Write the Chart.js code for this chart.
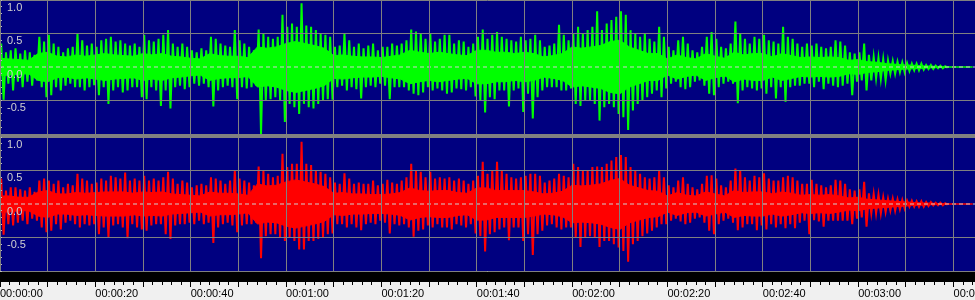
<!DOCTYPE html>
<html>
<head>
<meta charset="utf-8">
<script src="https://cdn.jsdelivr.net/npm/chart.js@4.4.0/dist/chart.umd.min.js"></script>
<style>
  html, body { margin: 0; padding: 0; background: #f0f0f0; }
  #wrap { position: relative; width: 975px; height: 300px; overflow: hidden; background: #f0f0f0; }
  #topBox { position: absolute; left: 0; top: 0; width: 975px; height: 134px; }
  #sep { position: absolute; left: 0; top: 134px; width: 975px; height: 3px; background: #808080; }
  #band { position: absolute; left: 0; top: 272px; width: 975px; height: 10px; background: #000; }
  #bottomBox { position: absolute; left: 0; top: 137px; width: 975px; height: 163px; }
</style>
</head>
<body>
<div id="wrap">
  <div id="band"></div>
  <div id="topBox"><canvas id="leftChannel"></canvas></div>
  <div id="sep"></div>
  <div id="bottomBox"><canvas id="rightChannel"></canvas></div>
</div>
<script>
// time span of the view, in seconds
const viewSeconds = 204.5;

// tick labels
const timeLabels = ["00:00:00", "00:00:20", "00:00:40", "00:01:00", "00:01:20", "00:01:40",
  "00:02:00", "00:02:20", "00:02:40", "00:03:00", "00:03:20"];
const ampTicks = [1, 0.5, 0, -0.5];
const ampLabels = ["1.0", "0.5", "0.0", "-0.5"];

// peak levels, one value per second (t = 0 .. 198 s)
const leftHi = [
  .35,.22,.25,.28,.2,.25,.22,.18,.45,.38,
  .48,.35,.3,.22,.28,.3,.5,.4,.32,.35,
  .3,.4,.42,.45,.38,.4,.35,.32,.35,.3,
  .48,.4,.38,.42,.48,.55,.35,.3,.35,.3,
  .25,.22,.28,.25,.45,.42,.35,.32,.3,.55,
  .4,.35,.3,.25,.56,.5,.45,.42,.45,.78,
  .6,.65,.6,.95,.62,.6,.55,.5,.48,.45,
  .3,.32,.5,.4,.3,.35,.28,.32,.35,.25,
  .3,.3,.35,.32,.35,.4,.56,.53,.5,.42,
  .5,.38,.42,.48,.48,.35,.4,.38,.3,.35,
  .45,.56,.42,.48,.52,.45,.42,.4,.38,.45,
  .4,.42,.48,.4,.3,.32,.35,.63,.48,.4,
  .5,.6,.5,.55,.6,.83,.55,.65,.7,.75,
  .83,.78,.55,.5,.45,.5,.42,.38,.6,.45,
  .3,.25,.4,.45,.35,.25,.22,.3,.45,.52,
  .42,.3,.28,.35,.68,.5,.42,.35,.45,.42,
  .48,.4,.38,.35,.6,.45,.42,.35,.3,.35,
  .32,.35,.3,.28,.3,.4,.38,.32,.22,.2,
  .22,.35,.18,.15,.14,.12,.1,.09,.08,.07,
  .06,.05,.05,.05,.03,.03,.02,.02,.01
];
const leftLo = [
  -.49,-.25,-.35,-.22,-.3,-.22,-.28,-.2,-.3,-.45,
  -.42,-.3,-.35,-.28,-.25,-.3,-.3,-.35,-.3,-.27,
  -.42,-.3,-.55,-.35,-.3,-.38,-.35,-.3,-.3,-.45,
  -.48,-.3,-.35,-.58,-.35,-.62,-.3,-.28,-.33,-.3,
  -.25,-.28,-.25,-.3,-.59,-.35,-.3,-.28,-.3,-.48,
  -.3,-.32,-.3,-.28,-1.0,-.5,-.48,-.45,-.5,-.82,
  -.55,-.6,-.7,-.55,-.6,-.62,-.55,-.5,-.48,-.49,
  -.3,-.28,-.35,-.3,-.33,-.47,-.3,-.28,-.3,-.25,
  -.28,-.48,-.3,-.3,-.3,-.35,-.4,-.42,-.38,-.3,
  -.35,-.32,-.35,-.4,-.38,-.32,-.33,-.35,-.3,-.44,
  -.5,-.68,-.45,-.48,-.35,-.35,-.59,-.35,-.32,-.67,
  -.4,-.77,-.45,-.35,-.3,-.3,-.3,-.35,-.35,-.32,
  -.55,-.58,-.5,-.5,-.55,-.8,-.6,-.55,-.6,-.7,
  -.75,-.94,-.65,-.55,-.5,-.45,-.4,-.35,-.45,-.32,
  -.25,-.22,-.3,-.33,-.3,-.22,-.2,-.28,-.4,-.42,
  -.3,-.25,-.22,-.25,-.54,-.35,-.3,-.32,-.35,-.32,
  -.4,-.3,-.47,-.3,-.52,-.3,-.28,-.28,-.25,-.25,
  -.3,-.22,-.33,-.25,-.28,-.3,-.28,-.25,-.42,-.22,
  -.2,-.35,-.2,-.17,-.18,-.2,-.1,-.1,-.08,-.08,
  -.06,-.05,-.05,-.04,-.03,-.03,-.02,-.02,-.01
];
const rightHi = [
  .38,.2,.25,.25,.22,.2,.25,.18,.35,.38,
  .35,.3,.35,.25,.3,.28,.45,.38,.35,.3,
  .32,.38,.35,.42,.4,.38,.47,.35,.38,.35,
  .42,.35,.38,.35,.4,.48,.38,.3,.35,.32,
  .25,.28,.3,.28,.4,.38,.35,.3,.35,.5,
  .38,.35,.32,.28,.56,.5,.45,.4,.42,.75,
  .55,.6,.6,.93,.6,.58,.5,.48,.45,.4,
  .32,.3,.46,.38,.3,.32,.3,.3,.35,.28,
  .3,.36,.32,.3,.35,.4,.6,.5,.48,.4,
  .48,.38,.4,.38,.4,.35,.38,.35,.3,.35,
  .42,.63,.45,.5,.63,.5,.45,.4,.38,.4,
  .42,.45,.45,.42,.32,.35,.38,.45,.42,.4,
  .6,.55,.5,.5,.55,.56,.55,.6,.65,.7,
  .73,.7,.55,.5,.45,.4,.38,.4,.5,.4,
  .28,.25,.35,.4,.3,.25,.22,.3,.42,.43,
  .38,.28,.25,.35,.53,.5,.4,.35,.42,.4,
  .46,.38,.35,.35,.4,.42,.4,.35,.3,.3,
  .36,.3,.28,.25,.28,.36,.35,.3,.22,.2,
  .22,.33,.16,.15,.14,.1,.08,.08,.07,.06,
  .05,.05,.04,.04,.03,.03,.02,.02,.01
];
const rightLo = [
  -.46,-.3,-.32,-.28,-.25,-.3,-.22,-.25,-.35,-.42,
  -.4,-.3,-.38,-.28,-.25,-.3,-.35,-.3,-.32,-.3,
  -.45,-.35,-.5,-.32,-.3,-.35,-.51,-.3,-.35,-.38,
  -.4,-.32,-.3,-.3,-.45,-.52,-.32,-.3,-.3,-.28,
  -.3,-.25,-.3,-.28,-.58,-.35,-.3,-.28,-.32,-.42,
  -.32,-.3,-.3,-.28,-.81,-.48,-.45,-.45,-.5,-.55,
  -.5,-.55,-.68,-.68,-.55,-.55,-.52,-.5,-.45,-.44,
  -.3,-.3,-.35,-.3,-.35,-.39,-.3,-.28,-.3,-.25,
  -.28,-.44,-.3,-.32,-.3,-.35,-.49,-.4,-.38,-.32,
  -.35,-.3,-.35,-.35,-.38,-.3,-.32,-.35,-.3,-.44,
  -.48,-.71,-.45,-.42,-.38,-.35,-.54,-.35,-.35,-.55,
  -.45,-.76,-.45,-.4,-.32,-.3,-.35,-.38,-.35,-.35,
  -.5,-.64,-.5,-.48,-.5,-.64,-.55,-.55,-.6,-.65,
  -.7,-.86,-.6,-.55,-.48,-.44,-.4,-.35,-.3,-.3,
  -.25,-.22,-.26,-.3,-.28,-.22,-.2,-.28,-.4,-.45,
  -.3,-.25,-.22,-.28,-.39,-.35,-.3,-.3,-.39,-.32,
  -.38,-.3,-.35,-.3,-.36,-.3,-.36,-.28,-.25,-.45,
  -.24,-.26,-.34,-.25,-.25,-.25,-.25,-.25,-.3,-.22,
  -.2,-.34,-.14,-.14,-.14,-.12,-.1,-.1,-.08,-.07,
  -.04,-.04,-.04,-.04,-.03,-.02,-.02,-.02,-.01
];

// dense body of the signal, one value every 2 s (t = 0 .. 204 s)
const leftBody = [
  .13,.12,.11,.1,.2,.22,.16,.15,.18,.16,
  .18,.2,.18,.17,.16,.2,.18,.2,.16,.15,
  .13,.12,.2,.17,.16,.16,.14,.3,.28,.3,
  .35,.38,.35,.32,.28,.17,.18,.16,.15,.15,
  .14,.16,.18,.25,.22,.2,.22,.2,.18,.17,
  .25,.25,.22,.22,.2,.22,.2,.15,.17,.2,
  .3,.28,.3,.32,.38,.4,.3,.25,.2,.2,
  .12,.18,.14,.12,.2,.16,.13,.22,.18,.2,
  .2,.15,.2,.17,.14,.15,.14,.15,.14,.1,
  .11,.08,.07,.05,.04,.03,.025,.015,.01,.005,
  0,0,0
];
const rightBody = [
  .12,.12,.1,.1,.18,.2,.15,.15,.17,.16,
  .17,.18,.18,.18,.16,.18,.17,.18,.15,.14,
  .13,.12,.18,.16,.16,.15,.13,.3,.27,.28,
  .33,.36,.33,.3,.26,.16,.17,.15,.15,.14,
  .14,.15,.17,.24,.2,.19,.2,.2,.17,.16,
  .24,.24,.2,.2,.2,.2,.18,.15,.16,.19,
  .28,.27,.28,.3,.35,.38,.28,.24,.2,.19,
  .12,.17,.13,.12,.18,.15,.12,.2,.17,.18,
  .18,.15,.18,.16,.13,.14,.13,.14,.12,.09,
  .1,.07,.06,.05,.04,.03,.02,.015,.01,.005,
  0,0,0
];

const GRID = "#808080";
const FONT = { family: "Liberation Sans", size: 11 };

// paint the plot area navy
const navyArea = {
  id: "navyArea",
  beforeDraw(chart) {
    const { ctx, chartArea: a } = chart;
    ctx.save();
    ctx.fillStyle = "#000080";
    ctx.fillRect(a.left, a.top, a.right - a.left, a.bottom - a.top);
    ctx.restore();
  }
};

function noPadding(scale) {
  scale.paddingLeft = scale.paddingRight = scale.paddingTop = scale.paddingBottom = 0;
}

function makeChannel(id, hi, lo, body, color, withRuler) {
  // each second: a stroke up to its peak and down to its trough
  const strokes = [];
  hi.forEach((h, i) => {
    strokes.push({ x: i + 0.25, y: h });
    strokes.push({ x: i + 0.75, y: lo[i] });
  });
  const bodyUp = body.map((b, i) => ({ x: i * 2, y: b }));
  const bodyDown = body.map((b, i) => ({ x: i * 2, y: -b }));

  const scales = {
    y: {
      type: "linear", position: "left", min: -1, max: 1,
      border: { display: false },
      grid: {
        drawTicks: false, z: 1,
        color: (c) => (c.tick && c.tick.value === 0 ? "transparent" : GRID)
      },
      ticks: {
        stepSize: 0.5, mirror: true, padding: 7, labelOffset: 7.5, z: 1,
        color: "#d0d0d0", font: FONT, autoSkip: false,
        callback: (v) => {
          const k = ampTicks.indexOf(v);
          return k >= 0 ? ampLabels[k] : "";
        }
      },
      afterFit: (s) => { s.width = 0; noPadding(s); }
    },
    yMinor: {
      type: "linear", position: "left", min: -1, max: 1,
      border: { display: false },
      grid: { drawOnChartArea: false, tickLength: -2, tickColor: "#c0c0c0", z: 1 },
      ticks: { stepSize: 0.1, display: false, autoSkip: false },
      afterFit: (s) => { s.width = 0; noPadding(s); }
    }
  };

  if (withRuler) {
    scales.x = {
      type: "linear", position: "bottom", min: 0, max: viewSeconds, weight: 0, offset: false,
      border: { display: true, color: "#e8e8e8", width: 1 },
      grid: {
        offset: false, z: 1, tickLength: 14, tickColor: "#000",
        color: (c) => (c.tick && c.tick.value % 10 === 0 ? GRID : "transparent")
      },
      ticks: { stepSize: 2, display: false, includeBounds: false, autoSkip: false },
      afterFit: (s) => { s.height = 14; noPadding(s); }
    };
    scales.xr = {
      type: "linear", position: "bottom", min: 0, max: viewSeconds, weight: 1, offset: false,
      border: { display: false },
      grid: { offset: false, drawOnChartArea: false, tickLength: 2, tickColor: "#000" },
      ticks: {
        stepSize: 10, includeBounds: false, autoSkip: false, maxRotation: 0, minRotation: 0,
        align: "start", padding: 0, color: "#000", font: FONT,
        callback: (v) => (v % 20 === 0 ? timeLabels[v / 20] : "")
      },
      afterFit: (s) => { s.height = 15; noPadding(s); }
    };
  } else {
    scales.x = {
      type: "linear", position: "bottom", min: 0, max: viewSeconds, offset: false,
      border: { display: false },
      grid: { offset: false, z: 1, drawTicks: false, color: GRID },
      ticks: { stepSize: 10, display: false, includeBounds: false, autoSkip: false },
      afterFit: (s) => { s.height = 0; noPadding(s); }
    };
  }

  return new Chart(document.getElementById(id), {
    type: "line",
    data: {
      datasets: [
        {
          data: [{ x: 0, y: 0 }, { x: viewSeconds, y: 0 }],
          borderColor: "#d0d0d0", borderWidth: 1, borderDash: [4, 3],
          pointRadius: 0, order: 0
        },
        {
          data: strokes, borderColor: color, borderWidth: 2,
          pointRadius: 0, order: 1
        },
        {
          data: bodyUp, fill: "origin", backgroundColor: color,
          borderColor: color, borderWidth: 1, pointRadius: 0, order: 2
        },
        {
          data: bodyDown, fill: "origin", backgroundColor: color,
          borderColor: color, borderWidth: 1, pointRadius: 0, order: 2
        }
      ]
    },
    options: {
      responsive: true,
      maintainAspectRatio: false,
      animation: false,
      events: [],
      layout: { padding: 0 },
      plugins: { legend: { display: false }, tooltip: { enabled: false } },
      scales: scales
    },
    plugins: [navyArea]
  });
}

makeChannel("leftChannel", leftHi, leftLo, leftBody, "#00ff00", false);
makeChannel("rightChannel", rightHi, rightLo, rightBody, "#ff0000", true);
</script>
</body>
</html>
